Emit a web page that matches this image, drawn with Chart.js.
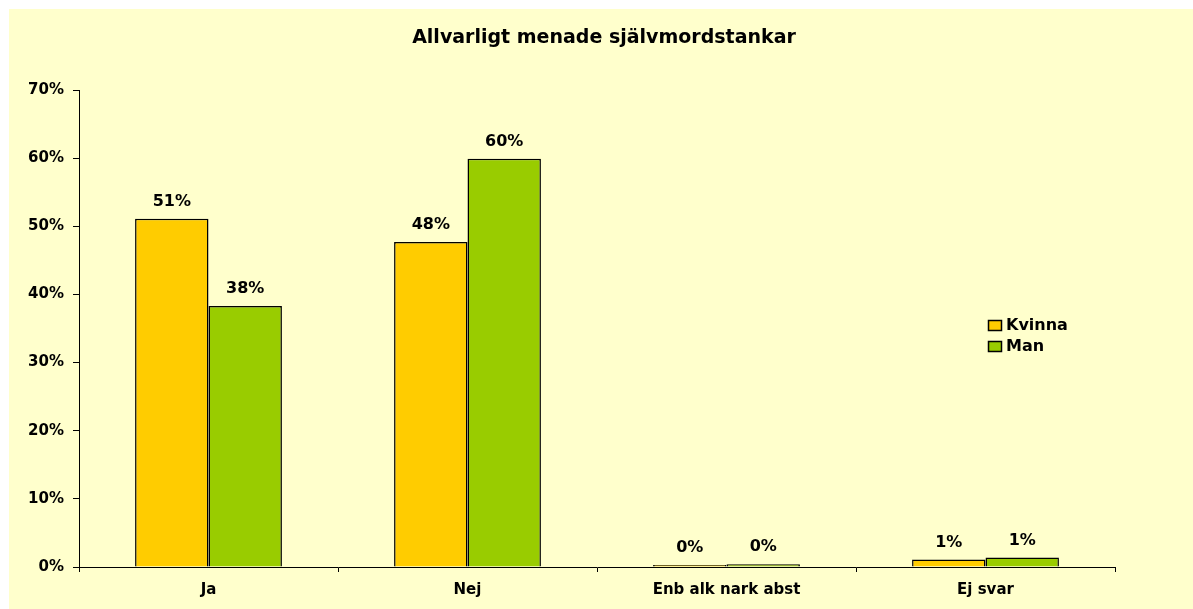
<!DOCTYPE html>
<html>
<head>
<meta charset="utf-8">
<script src="https://cdn.jsdelivr.net/npm/chart.js@4.4.1/dist/chart.umd.min.js"></script>
<style>
    body { margin: 0; background: #ffffff; }
    #wrap { width: 1193px; height: 609px; position: relative; }
</style>
</head>
<body>
<div id="wrap"><canvas id="chart"></canvas></div>
<script>
const categories = ["Ja", "Nej", "Enb alk nark abst", "Ej svar"];
const kvinna = [51.1, 47.7, 0.3, 1.1];
const man = [38.3, 59.9, 0.4, 1.4];
const yTicks = [0, 10, 20, 30, 40, 50, 60, 70];
const chartTitle = "Allvarligt menade självmordstankar";

const FONT = "'DejaVu Sans', sans-serif";

// yellow panel behind everything
const panelBg = {
    id: 'panelBg',
    beforeDraw(chart) {
        let ctx = chart.ctx;
        ctx.save();
        ctx.fillStyle = '#ffffff';
        ctx.fillRect(0, 0, chart.width, chart.height);
        ctx.fillStyle = '#FFFFCC';
        ctx.fillRect(9, 9, chart.width - 9, chart.height - 9);
        ctx.restore();
    }
};

// title, value labels and legend
const extras = {
    id: 'extras',
    afterDatasetsDraw(chart) {
        let ctx = chart.ctx;
        ctx.save();
        ctx.fillStyle = '#000000';
        ctx.textAlign = 'center';
        ctx.textBaseline = 'middle';

        ctx.font = "bold 19px " + FONT;
        ctx.fillText(chartTitle, 604, 38);

        ctx.font = "bold 16px " + FONT;
        chart.data.datasets.forEach((ds, i) => {
            let meta = chart.getDatasetMeta(i);
            meta.data.forEach((bar, j) => {
                ctx.fillText(Math.round(ds.data[j]) + '%', bar.x, bar.y - 17);
            });
        });

        // legend
        ctx.textAlign = 'left';
        ctx.font = "bold 16px " + FONT;
        chart.data.datasets.forEach((ds, i) => {
            let y = 325 + i * 21;
            ctx.fillStyle = ds.backgroundColor;
            ctx.fillRect(988, y - 5, 13, 10);
            ctx.strokeStyle = '#000000';
            ctx.lineWidth = 1.5;
            ctx.strokeRect(988.5, y - 4.5, 13, 10);
            ctx.fillStyle = '#000000';
            ctx.fillText(ds.label, 1006, y + 1);
        });
        ctx.restore();
    }
};

const myChart = new Chart(document.getElementById('chart'), {
    type: 'bar',
    data: {
        labels: categories,
        datasets: [{
            label: 'Kvinna',
            data: kvinna,
            backgroundColor: '#FFCC00',
            borderColor: '#000000',
            borderWidth: 1.5
        }, {
            label: 'Man',
            data: man,
            backgroundColor: '#99CC00',
            borderColor: '#000000',
            borderWidth: 1.5
        }]
    },
    options: {
        responsive: true,
        maintainAspectRatio: false,
        animation: false,
        layout: {
            padding: { left: 0, right: 78, top: 90, bottom: 0 }
        },
        plugins: {
            legend: { display: false },
            title: { display: false },
            tooltip: { enabled: false }
        },
        datasets: {
            bar: {
                categoryPercentage: 0.567,
                barPercentage: 1.0
            }
        },
        scales: {
            x: {
                afterFit(scale) { scale.height = 42; },
                border: { color: '#000000', width: 1 },
                grid: {
                    drawOnChartArea: false,
                    drawTicks: true,
                    tickLength: 5,
                    color: '#000000'
                },
                ticks: {
                    color: '#000000',
                    padding: 9,
                    font: { family: FONT, size: 15, weight: 'bold' }
                }
            },
            y: {
                min: 0,
                max: 70,
                afterFit(scale) { scale.width = 79; },
                afterBuildTicks(scale) {
                    scale.ticks = yTicks.map(v => ({ value: v }));
                },
                border: { color: '#000000', width: 1 },
                grid: {
                    drawOnChartArea: false,
                    drawTicks: true,
                    tickLength: 6,
                    color: '#000000'
                },
                ticks: {
                    color: '#000000',
                    padding: 9,
                    font: { family: FONT, size: 15, weight: 'bold' },
                    callback: function (v) { return v + '%'; }
                }
            }
        }
    },
    plugins: [panelBg, extras]
});
</script>
</body>
</html>
